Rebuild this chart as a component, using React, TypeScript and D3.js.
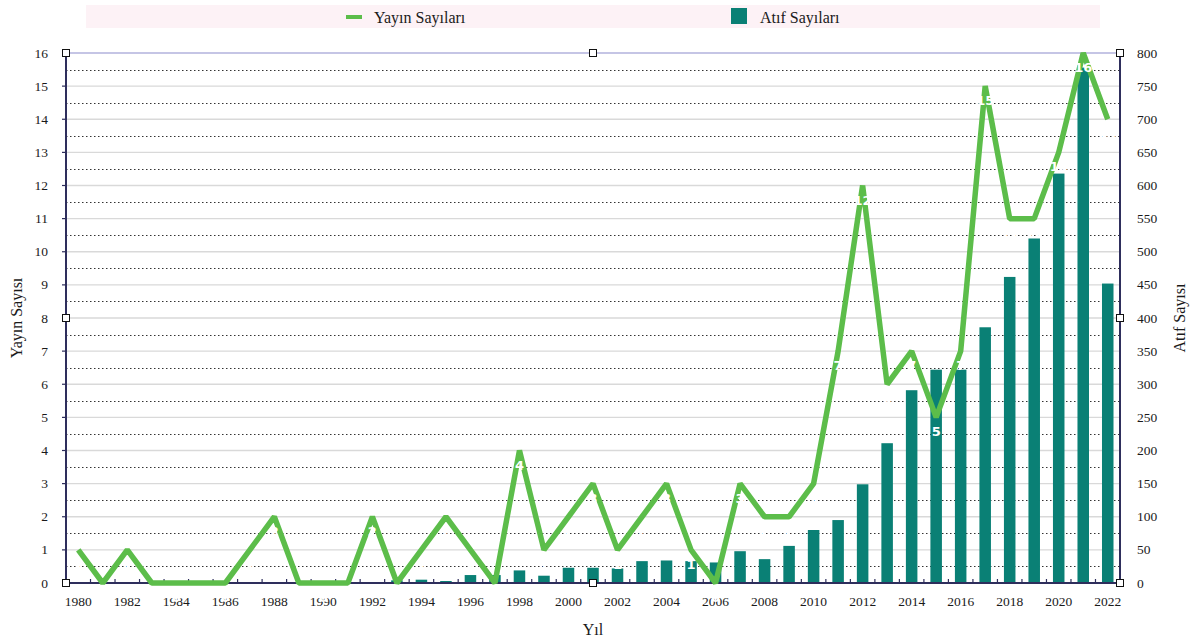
import React, { useEffect, useRef } from "react";
import * as d3 from "d3";

const years = [
  "1980", "1981", "1982", "1983", "1984", "1985", "1986", "1987", "1988", "1989",
  "1990", "1991", "1992", "1993", "1994", "1995", "1996", "1997", "1998", "1999",
  "2000", "2001", "2002", "2003", "2004", "2005", "2006", "2007", "2008", "2009",
  "2010", "2011", "2012", "2013", "2014", "2015", "2016", "2017", "2018", "2019",
  "2020", "2021", "2022",
];

// Yayın Sayıları (left axis)
const yayin = [
  1, 0, 1, 0, 0, 0, 0, 1, 2, 0,
  0, 0, 2, 0, 1, 2, 1, 0, 4, 1,
  2, 3, 1, 2, 3, 1, 0, 3, 2, 2,
  3, 7, 12, 6, 7, 5, 7, 15, 11, 11,
  13, 16, 14,
];

// Atıf Sayıları (right axis)
const atif = [
  0, 0, 0, 0, 0, 0, 0, 0, 0, 0,
  0, 0, 0, 4, 5, 3, 12, 12, 19, 11,
  23, 23, 22, 33, 34, 33, 31, 48, 36, 56,
  80, 95, 149, 211, 291, 322, 322, 386, 462, 520,
  618, 778, 452,
];

const leftTicks = [0, 1, 2, 3, 4, 5, 6, 7, 8, 9, 10, 11, 12, 13, 14, 15, 16];
const rightTicks = [0, 50, 100, 150, 200, 250, 300, 350, 400, 450, 500, 550, 600, 650, 700, 750, 800];
const xLabels = years.filter((d, i) => i % 2 === 0);

const FONT = "'Liberation Serif', 'Times New Roman', serif";

function App() {
  const svgRef = useRef(null);

  useEffect(() => {
    const width = 1192;
    const height = 644;
    const left = 66;
    const right = 1120;
    const top = 53;
    const bottom = 583;
    const green = "#5cbd4a";
    const teal = "#0a8075";
    const navy = "#2e2e5c";
    const ink = "#1a1a1a";

    const svg = d3.select(svgRef.current);
    svg.selectAll("*").remove();
    svg.attr("width", width).attr("height", height);

    const x = d3.scaleBand().domain(years).range([left, right]);
    const yL = d3.scaleLinear().domain([0, 16]).range([bottom, top]);
    const yR = d3.scaleLinear().domain([0, 800]).range([bottom, top]);
    const cx = (d) => x(d) + x.bandwidth() / 2;

    // legend
    svg.append("rect").attr("x", 86).attr("y", 5).attr("width", 1014).attr("height", 23).attr("fill", "#fdf2f6");
    svg.append("rect").attr("x", 346).attr("y", 15).attr("width", 16).attr("height", 4).attr("fill", green);
    svg.append("text").attr("x", 374).attr("y", 23).text("Yayın Sayıları")
      .attr("font-family", FONT).attr("font-size", 16).attr("fill", ink);
    svg.append("rect").attr("x", 731).attr("y", 8).attr("width", 16).attr("height", 16).attr("fill", teal);
    svg.append("text").attr("x", 760).attr("y", 23).text("Atıf Sayıları")
      .attr("font-family", FONT).attr("font-size", 16).attr("fill", ink);

    // grid lines
    svg.selectAll(".grid")
      .data(leftTicks.slice(1, -1))
      .enter()
      .append("line")
      .attr("x1", left).attr("x2", right)
      .attr("y1", (d) => yL(d)).attr("y2", (d) => yL(d))
      .attr("stroke", "#d9d9d9").attr("stroke-width", 1.4);

    svg.selectAll(".half")
      .data(leftTicks.slice(0, -1))
      .enter()
      .append("line")
      .attr("x1", left).attr("x2", right)
      .attr("y1", (d) => Math.round(yL(d + 0.5)) + 0.5).attr("y2", (d) => Math.round(yL(d + 0.5)) + 0.5)
      .attr("stroke", "#333").attr("stroke-width", 1).attr("stroke-dasharray", "1.5,2.5");

    // top border
    svg.append("line").attr("x1", left).attr("x2", right).attr("y1", top).attr("y2", top)
      .attr("stroke", "#8c8ccc").attr("stroke-width", 1.2);

    // bars
    const bw = x.bandwidth() * 0.47;
    svg.selectAll(".bar")
      .data(atif)
      .enter()
      .append("rect")
      .attr("x", (d, i) => cx(years[i]) - bw / 2)
      .attr("y", (d) => yR(d))
      .attr("width", bw)
      .attr("height", (d) => bottom - yR(d))
      .attr("fill", teal);

    // axes lines
    svg.append("line").attr("x1", left).attr("x2", left).attr("y1", top).attr("y2", bottom).attr("stroke", navy).attr("stroke-width", 2);
    svg.append("line").attr("x1", right).attr("x2", right).attr("y1", top).attr("y2", bottom).attr("stroke", navy).attr("stroke-width", 2);
    svg.append("line").attr("x1", left).attr("x2", right).attr("y1", bottom).attr("y2", bottom).attr("stroke", navy).attr("stroke-width", 2);

    // x ticks at band boundaries
    svg.selectAll(".xtick")
      .data(years.slice(1))
      .enter()
      .append("line")
      .attr("x1", (d) => x(d)).attr("x2", (d) => x(d))
      .attr("y1", bottom - 4).attr("y2", bottom)
      .attr("stroke", navy).attr("stroke-width", 1.2);

    // left ticks
    svg.selectAll(".ytick")
      .data(leftTicks)
      .enter()
      .append("line")
      .attr("x1", left - 4).attr("x2", left)
      .attr("y1", (d) => yL(d)).attr("y2", (d) => yL(d))
      .attr("stroke", navy).attr("stroke-width", 1.2);

    // line
    const line = d3.line()
      .x((d, i) => cx(years[i]))
      .y((d) => yL(d));
    svg.append("path")
      .datum(yayin)
      .attr("d", line)
      .attr("fill", "none")
      .attr("stroke", green)
      .attr("stroke-width", 5.5)
      .attr("stroke-linejoin", "bevel");

    // x labels
    svg.selectAll(".xlab")
      .data(xLabels)
      .enter()
      .append("text")
      .attr("x", (d) => cx(d))
      .attr("y", 606)
      .attr("text-anchor", "middle")
      .attr("font-family", FONT).attr("font-size", 13.5).attr("fill", ink)
      .text((d) => d);

    // left labels
    svg.selectAll(".llab")
      .data(leftTicks)
      .enter()
      .append("text")
      .attr("x", 48)
      .attr("y", (d) => yL(d) + 4.5)
      .attr("text-anchor", "end")
      .attr("font-family", FONT).attr("font-size", 13.5).attr("fill", ink)
      .text((d) => d);

    // right labels
    svg.selectAll(".rlab")
      .data(rightTicks)
      .enter()
      .append("text")
      .attr("x", 1137)
      .attr("y", (d) => yR(d) + 4.5)
      .attr("font-family", FONT).attr("font-size", 13.5).attr("fill", ink)
      .text((d) => d);

    // point labels (white, like the original's data labels)
    svg.selectAll(".plab")
      .data(yayin)
      .enter()
      .append("text")
      .attr("x", (d, i) => cx(years[i]))
      .attr("y", (d) => yL(d) + 19)
      .attr("text-anchor", "middle")
      .attr("font-family", "'DejaVu Sans', sans-serif").attr("font-weight", "bold")
      .attr("font-size", 13).attr("fill", "#fff")
      .text((d) => d);

    // axis titles
    svg.append("text")
      .attr("transform", `translate(22,${(top + bottom) / 2}) rotate(-90)`)
      .attr("text-anchor", "middle")
      .attr("font-family", FONT).attr("font-size", 16).attr("fill", ink)
      .text("Yayın Sayısı");
    svg.append("text")
      .attr("transform", `translate(1185,${(top + bottom) / 2}) rotate(-90)`)
      .attr("text-anchor", "middle")
      .attr("font-family", FONT).attr("font-size", 16).attr("fill", ink)
      .text("Atıf Sayısı");
    svg.append("text")
      .attr("x", (left + right) / 2).attr("y", 635)
      .attr("text-anchor", "middle")
      .attr("font-family", FONT).attr("font-size", 16).attr("fill", ink)
      .text("Yıl");

    // selection handles
    const mx = (left + right) / 2;
    const my = (top + bottom) / 2;
    const handles = [[left, top], [mx, top], [right, top], [left, my], [right, my], [left, bottom], [mx, bottom], [right, bottom]];
    svg.selectAll(".handle")
      .data(handles)
      .enter()
      .append("rect")
      .attr("x", (d) => d[0] - 3.5).attr("y", (d) => d[1] - 3.5)
      .attr("width", 7).attr("height", 7)
      .attr("fill", "#fff").attr("stroke", "#111").attr("stroke-width", 1);
  }, []);

  return (
    <svg ref={svgRef} style={{ position: "absolute", left: 0, top: 0, background: "#fff" }}></svg>
  );
}

export default App;
